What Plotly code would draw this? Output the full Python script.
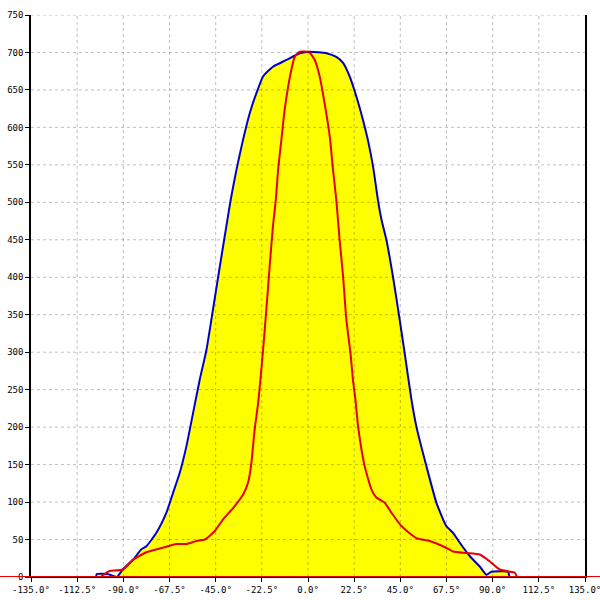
import plotly.graph_objects as go

# --- data ---
blue_x = [-103.2, -103, -97.6, -93.2, -90.3, -85.3, -81.2, -78.8, -73.9, -69,
          -65.8, -62.5, -59.3, -56, -52.8, -49.5, -46.3, -43, -39.8, -37.7,
          -34.9, -31.7, -28.4, -25.1, -21.9, -17.1, -10.5, -4, 0.8, 9,
          13.8, 17.1, 20.3, 23.6, 26.8, 29.2, 31.7, 34.1, 35.8, 38.2,
          41.4, 44.7, 47.1, 50.4, 52.8, 57.7, 62.6, 67.4, 70.7, 73.9,
          78.8, 83.7, 86.9, 89.4, 97.5, 98.3, 101.5]
blue_y = [0, 4, 4, 0, 10, 23, 37, 41, 59, 86,
          112, 139, 174, 219, 263, 303, 357, 414, 468, 503,
          543, 583, 619, 646, 668, 681, 690, 699, 701, 699,
          694, 686, 668, 641, 610, 583, 548, 503, 477, 450,
          401, 343, 299, 237, 201, 148, 99, 68, 59, 46,
          28, 14, 3, 7, 7, 0, 0]

red_x = [-101, -98.2, -96.6, -90.2, -85.3, -78.8, -72.3, -64.1, -59.3, -54.4,
         -50.3, -45.5, -41.4, -36.5, -31.6, -29.2, -27.6, -26, -24.4, -23.2,
         -21.9, -20.3, -18.7, -17.1, -15.7, -14.6, -13, -11.4, -9.7, -8.1,
         -6.5, -4, 0, 0.8, 3.3, 5.7, 8.1, 10.6, 12.2, 13.8,
         15.4, 17.1, 18.7, 20.7, 21.9, 23.1, 24.4, 27.6, 30.9, 33.3,
         37.4, 40.6, 45.5, 52.8, 59.3, 65.8, 70.7, 77.2, 83.7, 88.5,
         93.4, 98.3, 100.7, 101.9]
red_y = [0, 6, 8, 10, 23, 33, 38, 44, 44, 48,
         50, 61, 77, 92, 110, 126, 152, 197, 230, 263,
         303, 357, 414, 468, 503, 543, 583, 623, 654, 677,
         694, 701, 701, 700, 690, 668, 632, 588, 543, 503,
         450, 401, 343, 299, 263, 237, 201, 148, 117, 106,
         99, 86, 68, 52, 48, 41, 34, 32, 30, 21,
         10, 7, 6, 0]

x_ticks = [-135.0, -112.5, -90.0, -67.5, -45.0, -22.5, 0.0, 22.5, 45.0, 67.5, 90.0, 112.5, 135.0]
x_labels = [f"{v:.1f}°" for v in x_ticks]
y_ticks = list(range(0, 751, 50))
y_labels = [str(v) for v in y_ticks]

FONT = dict(family="DejaVu Sans Mono", size=9, color="black")

fig = go.Figure()
fig.add_trace(go.Scatter(x=blue_x, y=blue_y, mode="lines", fill="tozeroy",
                         fillcolor="#FFFF00",
                         line=dict(color="#0000C8", width=2, shape="spline", smoothing=0.5),
                         showlegend=False, hoverinfo="skip"))
fig.add_trace(go.Scatter(x=red_x, y=red_y, mode="lines",
                         line=dict(color="#E60000", width=2, shape="spline", smoothing=0.5),
                         showlegend=False, hoverinfo="skip"))

shapes = []
grid = dict(color="rgba(0,0,0,0.25)", width=1, dash="3px,3px")
for v in x_ticks[1:-1]:
    shapes.append(dict(type="line", xref="x", yref="paper", x0=v, x1=v, y0=0, y1=1,
                       line=grid, layer="above"))
for v in y_ticks[1:]:
    shapes.append(dict(type="line", xref="paper", yref="y", x0=0, x1=1, y0=v, y1=v,
                       line=grid, layer="above"))
# red baseline spanning the whole width
shapes.append(dict(type="line", xref="paper", yref="y", x0=-0.06, x1=1.03, y0=0, y1=0,
                   line=dict(color="#E60000", width=2), layer="above"))

fig.update_layout(
    width=600, height=600,
    margin=dict(l=31, r=15, t=15, b=23),
    paper_bgcolor="white", plot_bgcolor="white",
    shapes=shapes,
    xaxis=dict(range=[-135, 135], tickvals=x_ticks, ticktext=x_labels,
               showgrid=False, zeroline=False, showline=True, linecolor="black",
               linewidth=1, mirror=False, ticks="outside", ticklen=4,
               tickcolor="black", tickfont=FONT, automargin=False,
               ticklabeloverflow="allow"),
    yaxis=dict(range=[0, 750], tickvals=y_ticks, ticktext=y_labels,
               showgrid=False, zeroline=False, showline=True, linecolor="black",
               linewidth=1.5, mirror=True, ticks="outside", ticklen=4, tickcolor="black",
               tickfont=FONT, automargin=False, ticklabeloverflow="allow"),
)

fig.write_html("out.html", config={"displayModeBar": False},
               post_script="document.body.style.margin='0px';document.body.style.overflow='hidden';")
